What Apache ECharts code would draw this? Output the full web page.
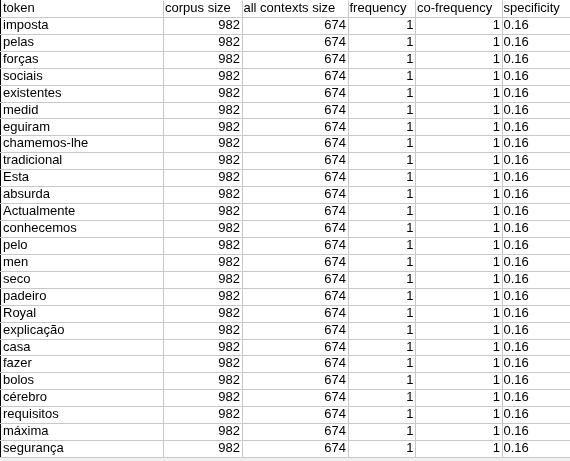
<!DOCTYPE html>
<html>
<head>
<meta charset="utf-8">
<script src="https://cdn.jsdelivr.net/npm/echarts@6/dist/echarts.min.js"></script>
<style>
  html, body { margin: 0; padding: 0; background: #fff; }
  #main { width: 570px; height: 461px; }
</style>
</head>
<body>
<div id="main"></div>
<script>
const headers = ["token", "corpus size", "all contexts size", "frequency", "co-frequency", "specificity"];
const tokens = [
  "imposta", "pelas", "forças", "sociais", "existentes", "medid", "eguiram",
  "chamemos-lhe", "tradicional", "Esta", "absurda", "Actualmente", "conhecemos",
  "pelo", "men", "seco", "padeiro", "Royal", "explicação", "casa", "fazer",
  "bolos", "cérebro", "requisitos", "máxima", "segurança"
];
const corpusSize = [982, 982, 982, 982, 982, 982, 982, 982, 982, 982, 982, 982, 982,
                    982, 982, 982, 982, 982, 982, 982, 982, 982, 982, 982, 982, 982];
const contextsSize = [674, 674, 674, 674, 674, 674, 674, 674, 674, 674, 674, 674, 674,
                      674, 674, 674, 674, 674, 674, 674, 674, 674, 674, 674, 674, 674];
const frequency = [1, 1, 1, 1, 1, 1, 1, 1, 1, 1, 1, 1, 1,
                   1, 1, 1, 1, 1, 1, 1, 1, 1, 1, 1, 1, 1];
const coFrequency = [1, 1, 1, 1, 1, 1, 1, 1, 1, 1, 1, 1, 1,
                     1, 1, 1, 1, 1, 1, 1, 1, 1, 1, 1, 1, 1];
const specificity = ["0.16", "0.16", "0.16", "0.16", "0.16", "0.16", "0.16", "0.16", "0.16",
                     "0.16", "0.16", "0.16", "0.16", "0.16", "0.16", "0.16", "0.16", "0.16",
                     "0.16", "0.16", "0.16", "0.16", "0.16", "0.16", "0.16", "0.16"];

// column edges in sheet pixels and text alignment per column (body rows)
const colEdges = [0, 163, 241.5, 347.5, 415, 501.5, 640];
const colAlign = ["left", "right", "right", "right", "right", "left"];

const columns = [tokens, corpusSize, contextsSize, frequency, coFrequency, specificity];
const rowLabels = ["header"].concat(tokens.map((t, i) => "r" + i));

const cells = [];
rowLabels.forEach((_, r) => {
  headers.forEach((h, c) => {
    const text = r === 0 ? h : String(columns[c][r - 1]);
    cells.push({ value: [c, r], text: text });
  });
});

const gridColor = "#c8c8c8";

function renderCell(params, api) {
  const c = api.value(0);
  const r = api.value(1);
  const band = api.size([0, 1])[1];
  const yc = api.coord([0, r])[1];
  const x0 = api.coord([colEdges[c], r])[0];
  const x1 = api.coord([colEdges[c + 1], r])[0];
  const yb = Math.round(yc + band / 2) + 0.5;
  const yt = Math.round(yc - band / 2) + 0.5;
  const xr = Math.round(x1) + 0.5;
  // header cells are text, so they sit left like a spreadsheet does
  const left = r === 0 || colAlign[c] === "left";
  return {
    type: "group",
    children: [
      {
        type: "line",
        shape: { x1: x0, y1: yb, x2: x1, y2: yb },
        style: { stroke: gridColor, lineWidth: 1 }
      },
      {
        type: "line",
        shape: { x1: xr, y1: yt, x2: xr, y2: yb },
        style: { stroke: gridColor, lineWidth: 1 }
      },
      {
        type: "text",
        style: {
          text: cells[params.dataIndex].text,
          x: left ? x0 + (c === 0 ? 3 : 2) : x1 - 1.5,
          y: yc,
          align: left ? "left" : "right",
          verticalAlign: "middle",
          font: '13px "Liberation Sans", Arial, sans-serif',
          fill: "#000"
        }
      }
    ]
  };
}

const chart = echarts.init(document.getElementById("main"));
chart.setOption({
  backgroundColor: "#fff",
  animation: false,
  grid: { left: 0, right: 0, top: 0, bottom: 4 },
  xAxis: { type: "value", min: 0, max: 570, show: false },
  yAxis: { type: "category", data: rowLabels, inverse: true, show: false },
  graphic: [
    {
      type: "rect",
      shape: { x: 0, y: 457, width: 570, height: 4 },
      style: { fill: "#f0f0f0" }
    },
    {
      type: "line",
      shape: { x1: 0.5, y1: 0, x2: 0.5, y2: 457 },
      style: { stroke: "#000", lineWidth: 1 }
    }
  ],
  series: [
    {
      type: "custom",
      renderItem: renderCell,
      data: cells,
      clip: false,
      silent: true
    }
  ]
});
</script>
</body>
</html>
